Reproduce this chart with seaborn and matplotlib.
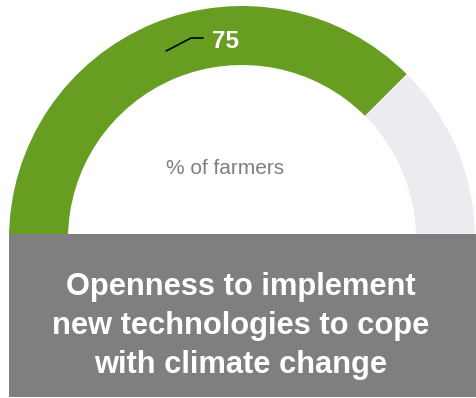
import numpy as np
import matplotlib
matplotlib.use("Agg")
import matplotlib.pyplot as plt
import seaborn as sns
from matplotlib.patches import Rectangle

sns.set_theme(style="white")
plt.rcParams["font.family"] = ["Liberation Sans", "DejaVu Sans"]

# Gauge data (percentage of farmers)
segments = ["Open to new technologies", "Other"]
values = [75, 25]
value_label = "75"
center_label = "% of farmers"
title = "Openness to implement\nnew technologies to cope\nwith climate change"

colors = ["#679E22", "#EDEBEF"]

W, H = 476, 398
fig = plt.figure(figsize=(W / 100, H / 100), dpi=100)
ax = fig.add_axes([0, 0, 1, 1])

cx, cy = 242, H - 239
R_out, ring = 233, 59

# Half donut: the lower half is a hidden filler slice
ax.pie(values + [sum(values)], colors=colors + ["none"], startangle=180,
       counterclock=False, radius=R_out, center=(cx, cy),
       wedgeprops=dict(width=ring, linewidth=0))
ax.set_xlim(0, W)
ax.set_ylim(0, H)
ax.set_aspect("auto")
ax.axis("off")

# Leader line from the middle of the filled segment to its value label
mid_ang = np.deg2rad(180 - values[0] / sum(values) * 180 / 2)
r_mid = R_out - ring / 2
x0, y0 = cx + r_mid * np.cos(mid_ang), cy + r_mid * np.sin(mid_ang)
x0 += 2
ax.plot([x0, x0 + 25, x0 + 37], [y0, y0 + 13, y0 + 13], color="black", lw=1.2)
ax.text(x0 + 46, y0 + 9, value_label, color="white", fontsize=17.5,
        fontweight="bold", ha="left", va="center")

ax.text(cx - 17, H - 169, center_label, color="#7F7F7F", fontsize=15,
        ha="center", va="center")

# Title box
ax.add_patch(Rectangle((9, H - 397), W - 9, 163, color="#7F7F7F", lw=0, zorder=3))
ax.text(241, H - 326, title, color="white", fontsize=22.2, fontweight="bold",
        ha="center", va="center", linespacing=1.38, zorder=4)

fig.savefig("out.png", dpi=100, facecolor="white")
